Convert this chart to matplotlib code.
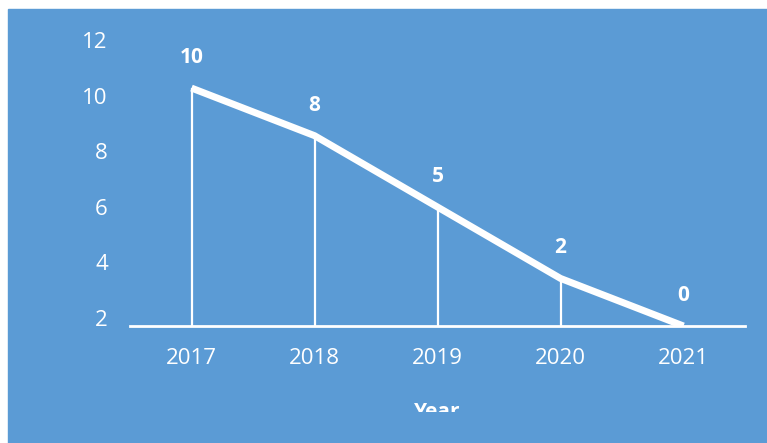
import matplotlib.pyplot as plt
from matplotlib.patches import Rectangle
from matplotlib.transforms import Bbox, TransformedBbox

years = ['2017', '2018', '2019', '2020', '2021']
values = [10, 8, 5, 2, 0]
axis_ticks = [2, 4, 6, 8, 10, 12]

blue = '#5B9BD5'
plt.rcParams['font.family'] = ['Open Sans', 'DejaVu Sans']

W, H = 767, 443
fig = plt.figure(figsize=(W / 100, H / 100), dpi=100, facecolor='white')
fig.add_artist(Rectangle((8 / W, 0), 1 - 8 / W, 1 - 9 / H,
                         transform=fig.transFigure, color=blue, zorder=0))

ax = fig.add_axes([130 / W, (H - 326) / H, (745 - 130) / W, (326 - 30) / H])
ax.set_facecolor('none')
x = list(range(len(years)))

# main line and drop lines
ax.plot(x, values, color='white', lw=5, solid_capstyle='butt',
        solid_joinstyle='miter', zorder=3)
ax.vlines(x, 0, values, color='white', lw=1.6, zorder=2)

for xi, v in zip(x, values):
    ax.annotate(str(v), (xi, v), xytext=(0, 22), textcoords='offset points',
                ha='center', va='center', color='white', fontsize=15,
                fontweight='bold')

ax.set_xlim(-0.5, len(years) - 0.5)
ax.set_ylim(0, 12.44)
ax.set_xticks(x)
ax.set_xticklabels(years)
ax.tick_params(axis='x', length=0, pad=16, labelsize=16, colors='white')
ax.set_yticks([])
for s in ['top', 'right', 'left']:
    ax.spines[s].set_visible(False)
ax.spines['bottom'].set_color('white')
ax.spines['bottom'].set_linewidth(2)

# value axis labels
ax2 = ax.twinx()
ax2.set_ylim(1.71, 12.36)
ax2.yaxis.tick_left()
ax2.set_yticks(axis_ticks)
ax2.tick_params(axis='y', length=0, pad=16, labelsize=16, colors='white')
for s in ax2.spines.values():
    s.set_visible(False)

# axis title, cut off at the bottom like the original
t = fig.text(437.5 / W, (H - 418) / H, 'Year', ha='center', va='baseline',
             color='white', fontsize=15, fontweight='bold')
t.set_clip_on(True)
t.set_clip_box(TransformedBbox(Bbox.from_extents(0, 31 / H, 1, 1), fig.transFigure))

fig.savefig('out.png', dpi=100, facecolor='white')
